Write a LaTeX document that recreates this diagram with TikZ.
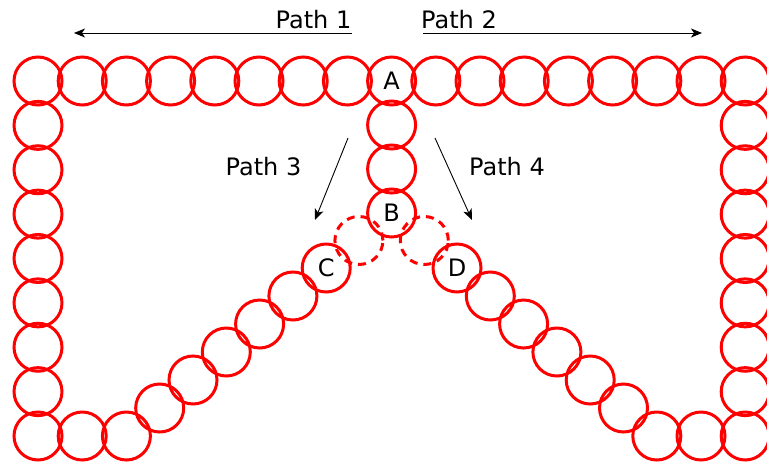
\documentclass[tikz,border=0pt]{standalone}
\usepackage{fontspec}
\setmainfont{DejaVu Sans}
\usetikzlibrary{arrows.meta,calc}

\begin{document}
\begin{tikzpicture}[
    x=1pt, y=-1pt,
    link/.style={draw=red, line width=3pt, circle, minimum size=48pt, inner sep=0pt, font=\fontsize{24}{28}\selectfont},
    ghost/.style={link, dash pattern=on 8pt off 6pt},
    arr/.style={-{Stealth[length=11pt, width=9pt, inset=3pt]}, line width=0.9pt},
    lbl/.style={font=\fontsize{24}{28}\selectfont, anchor=base}
]
\useasboundingbox (0,0) rectangle (767,463);

% top row
\foreach \i in {0,...,7,9,10,...,16}
    \node[link] (top\i) at ({38+44.2*\i},81) {};
\node[link] (A) at (391.6,81) {A};

% side columns
\foreach \j in {1,...,8} {
    \node[link] (left\j) at (38,{81+44.375*\j}) {};
    \node[link] (right\j) at (745.2,{81+44.375*\j}) {};
}

% bottom corners
\node[link] (botl1) at (82.2,436) {};
\node[link] (botl2) at (126.4,436) {};
\node[link] (botr1) at (701,436) {};
\node[link] (botr2) at (656.8,436) {};

% diagonals
\foreach \k in {1,...,5} {
    \node[link] (diagl\k) at ({126.4+33.3*\k},{436-28*\k}) {};
    \node[link] (diagr\k) at ({656.8-33.3*\k},{436-28*\k}) {};
}
\node[link] (C) at (326.2,268) {C};
\node[link] (D) at (457,268) {D};

% middle column
\node[link] (mid1) at (391.6,125) {};
\node[link] (mid2) at (391.6,169) {};
\node[link] (B) at (391.6,213) {B};

% bridging circles
\node[ghost] (gl) at ($(B)!0.5!(C)$) {};
\node[ghost] (gr) at ($(B)!0.5!(D)$) {};

% path arrows
\coordinate (p1s) at (352,33);
\coordinate (p1e) at (74,33);
\coordinate (p2s) at (423,33);
\coordinate (p2e) at (702,33);
\coordinate (p3s) at (348,138);
\coordinate (p3e) at (315,220);
\coordinate (p4s) at (435,138);
\coordinate (p4e) at (472,220);
\draw[arr] (p1s) -- (p1e);
\draw[arr] (p2s) -- (p2e);
\draw[arr] (p3s) -- (p3e);
\draw[arr] (p4s) -- (p4e);

\node[lbl] (path1) at (313.5,28.3) {Path 1};
\node[lbl] (path2) at (459,28.3) {Path 2};
\node[lbl] (path3) at (263.5,175) {Path 3};
\node[lbl] (path4) at (507,175) {Path 4};
\end{tikzpicture}
\end{document}
